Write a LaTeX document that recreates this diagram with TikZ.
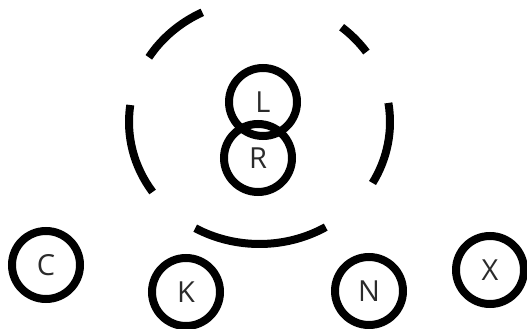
\documentclass[tikz,border=0pt]{standalone}
\usepackage{fontspec}
\setmainfont{Open Sans}
\definecolor{txt}{HTML}{2b2b2b}
\begin{document}
\begin{tikzpicture}[x=1pt,y=1pt,
  vert/.style={circle,draw=black,line width=8pt,minimum size=68pt,inner sep=0pt,
    font=\fontsize{29}{29}\selectfont,text=txt},
  dasharc/.style={draw=black,line width=8pt}]
\useasboundingbox (0,0) rectangle (527,329);
\coordinate (O) at (259.5,207);
\draw[dasharc] ([shift={(O)}]116:130.5 and 122) arc[start angle=116,end angle=148,x radius=130.5,y radius=122];
\draw[dasharc] ([shift={(O)}]35:130.5 and 122) arc[start angle=35,end angle=51,x radius=130.5,y radius=122];
\draw[dasharc] ([shift={(O)}]172:130.5 and 122) arc[start angle=172,end angle=215,x radius=130.5,y radius=122];
\draw[dasharc] ([shift={(O)}]-30:130.5 and 122) arc[start angle=-30,end angle=9,x radius=130.5,y radius=122];
\draw[dasharc] ([shift={(O)}]240.5:130.5 and 122) arc[start angle=240.5,end angle=300.5,x radius=130.5,y radius=122];
\node[vert] (L) at (263,227) {L};
\node[vert] (R) at (258,171) {R};
\node[vert] (C) at (46,64) {C};
\node[vert] (K) at (186,37) {K};
\node[vert] (N) at (369,38) {N};
\node[vert] (X) at (490,59) {X};
\end{tikzpicture}
\end{document}
